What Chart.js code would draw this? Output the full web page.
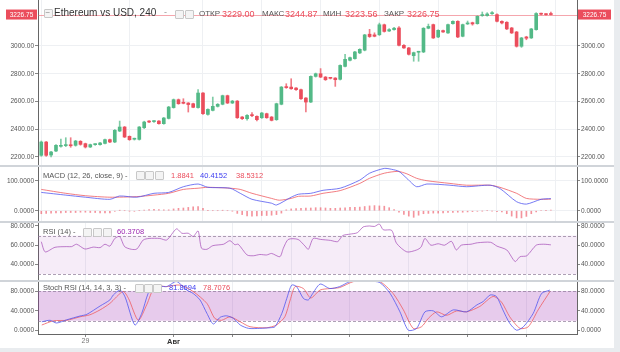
<!DOCTYPE html>
<html><head><meta charset="utf-8">
<script src="https://cdn.jsdelivr.net/npm/chart.js@4.4.1/dist/chart.umd.min.js"></script>
<style>
html,body{margin:0;padding:0;}
body{background:#e9ecef;width:620px;height:352px;overflow:hidden;position:relative;font-family:"Liberation Sans",Arial,sans-serif;}
#card{position:absolute;left:0;top:0;width:614px;height:348px;background:#fff;}
canvas{position:absolute;left:0;}
.sep{position:absolute;left:0;width:614px;height:2px;background:#d0d4d9;}
.t{position:absolute;white-space:nowrap;line-height:1;}
.ic{position:absolute;width:7px;height:7px;border:1px solid #c8c8c8;border-radius:1px;background:#f4f4f4;}
</style></head><body>
<div id="card"></div>
<canvas id="cMain" width="620" height="165" style="top:0px;width:620px;height:165px"></canvas>
<div class="sep" style="top:165px"></div>
<canvas id="cMacd" width="620" height="54" style="top:167px;width:620px;height:54px"></canvas>
<div class="sep" style="top:221px"></div>
<canvas id="cRsi" width="620" height="58" style="top:223px;width:620px;height:58px"></canvas>
<canvas id="cStoch" width="620" height="67" style="top:281px;width:620px;height:67px"></canvas>
<div class="sep" style="top:280px;height:1.5px"></div>
<div id="overlay"></div>
<script>
// ---------------- DATA ----------------
const TITLE = 'Ethereum vs USD, 240';
const OHLC_LABELS = ['ОТКР', 'МАКС', 'МИН', 'ЗАКР'];
const X_TICK_IDX = [9, 27, 39, 51, 63, 75, 87, 99];
const X_TICK_LABELS = ['29', 'Авг', '', '', '', '', '', ''];

const CANDLE_OPEN = [2212,2308,2214,2243,2277,2282,2284,2284,2313,2296, 2272,2289,2289,2298,2325,2308,2387,2416,2349,2328, 2327,2411,2457,2455,2459,2440,2478,2556,2613,2589, 2589,2584,2556,2661,2507,2536,2565,2580,2642,2589, 2603,2488,2476,2500,2493,2483,2512,2488,2469,2580, 2704,2704,2697,2685,2625,2596,2781,2800,2776,2769, 2769,2760,2853,2897,2909,2950,2970,3085,3080,3081, 3153,3108,3118,3130,3005,2986,2930,2955,2957,3128, 3154,3065,3111,3094,3161,3178,3070,3159,3168,3161, 3219,3219,3233,3226,3178,3171,3130,3101,2998,3065, 3058,3118,3234,3229,3229.00];
const CANDLE_HIGH = [2315,2312,2240,2290,2330,2339,2339,2320,2318,2300, 2293,2295,2305,2330,2330,2398,2459,2420,2352,2336, 2420,2458,2462,2462,2462,2485,2565,2618,2618,2620, 2592,2588,2685,2665,2548,2632,2585,2646,2646,2608, 2607,2492,2505,2520,2497,2521,2516,2492,2588,2708, 2728,2764,2700,2690,2628,2785,2805,2837,2780,2773, 2772,2864,2940,2920,2961,2980,3084,3120,3095,3165, 3158,3125,3135,3140,3010,2990,2956,2962,3132,3158, 3158,3117,3115,3158,3182,3182,3158,3180,3172,3218, 3245,3240,3248,3232,3182,3175,3134,3105,3062,3070, 3127,3240,3238,3234,3244.87];
const CANDLE_LOW = [2205,2205,2200,2238,2270,2275,2270,2278,2285,2265, 2268,2284,2285,2294,2303,2303,2383,2340,2320,2322, 2322,2405,2448,2450,2436,2436,2474,2552,2580,2583, 2524,2555,2552,2507,2502,2532,2560,2576,2585,2585, 2478,2470,2465,2490,2460,2478,2479,2460,2464,2576, 2695,2688,2680,2615,2524,2592,2776,2772,2752,2762, 2709,2755,2849,2893,2905,2945,2965,3062,3066,3076, 3100,3104,3114,3000,2982,2935,2890,2890,2952,3124, 3054,3060,3097,3090,3157,3060,3066,3155,3150,3157, 3214,3215,3228,3174,3160,3118,3090,2992,2990,3045, 3054,3114,3224,3222,3223.56];
const CANDLE_CLOSE = [2308,2212,2236,2284,2280,2284,2281,2315,2291,2272, 2289,2290,2301,2325,2308,2392,2416,2344,2325,2332, 2416,2452,2452,2457,2440,2481,2560,2613,2584,2587, 2578,2558,2661,2512,2543,2565,2580,2642,2589,2603, 2483,2476,2500,2498,2469,2517,2483,2464,2584,2704, 2700,2692,2685,2620,2596,2781,2800,2776,2757,2767, 2757,2860,2904,2916,2957,2976,3080,3068,3070,3153, 3105,3118,3128,3005,2986,2940,2952,2958,3128,3141, 3058,3113,3101,3154,3178,3065,3154,3161,3159,3214, 3220,3231,3234,3178,3166,3123,3094,2998,3058,3056, 3123,3234,3229,3226,3226.75];
const PRICE_TICKS = [2200, 2400, 2600, 2800, 3000];

const MACD_HIST = [-10,-9,-8,-7,-7, -6,-6,-6,-5,-5, -6,-6,-7,-7,-7, -2,1,0,-1,-2, 0,2,4,5,4, 3,3,6,8,9, 11,13,14,8,1, 0,0,1,0,-1, -9,-13,-17,-18,-17, -16,-16,-15,-13,-8, 3,6,7,8,9, 9,10,10,9,8, 8,9,10,11,11, 12,14,16,17,16, 15,10,4,-5,-12, -18,-22,-15,-10,-9, -8,-8,-7,-6,-6, -5,-5,-4,-3,-2, -1,0,-1,-3,-4, -10,-18,-24,-24,-19, -10,-4,0,1,1.8841];
const MACD_X = [0,5,9,14,16,19.5,23,26,29,32,34,38.5,40.6,43,47,48,51,52.5,55,57.5,61,65,67,70,71.5,73,74.6,76.6,78.7,83.4,86.8,91.6,93.6,97,99,102,104];
const MACD_LINE = [61,52,45,38,49,45,58,61,80,89,78,75,58,38,25,19,45,55,58,68,75,102,125,141,138,131,108,80,89,85,80,85,74,30,22,38,40.4152];
const SIGNAL_X = [0,5,9,14,19.5,23,26,29,32,34,38.5,40.6,43,47,48.6,51,52.5,55,57.5,61,65,67,70,72.8,74.6,76.6,78.7,83.4,86.8,91.6,93.6,97,99,102,104];
const SIGNAL_LINE = [71,58,50,45,47,52,58,71,75,78,75,71,58,41,35,41,48,49,58,67,91,108,125,131,123,108,100,91,85,85,78,58,41,38,38.5312];
const MACD_TICKS = [0, 100];

const RSI_X = [0,0.8,2.8,5.2,6.2,7.2,8.9,10.6,12,13,14,15,16,17,18.4,19.5,20.8,22,24.2,25.6,27.6,28.7,30,31,32,32.7,33.8,35,37.2,38.5,39.5,40.2,42,43.3,44.6,46,47,48.7,49.4,50.4,52.4,53.8,54.5,55.5,57,59,60.5,61.5,63,64.5,65.7,67,68,69,69.8,71.5,72.5,74.6,76.6,77.5,78.3,79.5,81,82.3,83.7,84.7,85.7,87.7,89,91.7,93,95,96.7,97.7,99.1,101,102.5,104];
const RSI_VALUE = [63.6,53,57.8,58.5,58.5,61,56,58,57.5,61,59,67,69,58.5,55.7,56,65.4,67,67,65.4,77,72.4,72.4,69,74.8,56.8,55.7,59.5,61,64.7,60.5,61,49.8,49,50.3,49.8,51.4,48,56.8,66,66,59.2,55.7,67,66,65,63.7,70,71.5,73,79,80,79.5,82,76,75.5,62,53,55,58,67,60,61.5,60,64,55,60,61,62.5,63,59,55,43,48,49,60,61,60.3708];
const RSI_TICKS = [40, 60, 80];
const RSI_BAND = [30, 70];

const STOCH_K_X = [0.1,1.8,3.1,5.2,7.9,9.3,12,14,14.7,16.1,17.1,19.1,20.5,21.8,22.9,24.2,25.6,27.6,29.7,31,32.4,33.8,35.1,36.5,37.8,39.2,40.6,42.3,44.6,46.7,47.7,49.1,50.1,51.1,52.1,53.5,54.5,55.2,56.9,58.9,60.9,63,65,67,69.1,71.2,73.2,74.9,76.6,78.3,80,81.7,84.1,86.8,88.9,90.2,91.6,92.9,94.2,95.6,97,98.4,100.4,102.1,103.8];
const STOCH_K = [18,21,15.5,22,29.6,33,49.8,62,72,82,68,11.5,35,75,90,90,89,99,82,75,62,35,13.5,27,30,25,11.5,4.7,4.7,6,8,35,65,92,89,65,62,72,94,85,89,99,100,100,97,75,38,1,4.7,38,40,28,42,38,52,59,72,69,42,15,1,8,35,75,81.8694];
const STOCH_D_X = [0.1,2.5,5.2,7.9,9.9,12,14,16.7,17.8,19.8,21.5,23.2,25.6,28.3,31,33.8,35.4,36.8,38.5,40.6,42.6,46,48,49.7,50.8,51.8,53.5,55,56.9,58.9,60.9,63.7,66.4,69.1,71.8,73.9,75.9,77.6,79,80.7,82.7,84.8,86.8,89.5,92.2,93.9,95.6,97.7,99.4,101.4,103.8];
const STOCH_D = [11.5,20,21,28,32,42,55,79,65,21,52,89,89,92,79,55,25,21,28,18,8,6,11.5,28,62,89,85,66,82,85,87,99,100,99,75,42,4.7,8,25,38,31,40,38,49,69,58,28,4.7,8,42,78.7076];
const STOCH_TICKS = [0, 40, 80];
const STOCH_BAND = [20, 80];

// ---------------- STYLE ----------------
const FONT = '"Liberation Sans", Arial, sans-serif';
const UP = '#53b987', DOWN = '#eb4d5c';
const BLUE = 'rgba(80,85,240,0.78)', REDL = 'rgba(238,90,95,0.78)', PURPLE = 'rgba(156,60,176,0.65)';
const X_MIN = -0.67, X_MAX = 109.33;

function xScale(show) {
  return {
    type: 'linear', min: X_MIN, max: X_MAX, offset: false,
    afterBuildTicks: s => { s.ticks = X_TICK_IDX.map(v => ({ value: v })); },
    afterFit: s => { s.height = show ? 14 : 0; s.paddingLeft = 0; s.paddingRight = 0; },
    ticks: {
      display: show, autoSkip: false, maxRotation: 0, padding: 0,
      callback: (v, i) => X_TICK_LABELS[i],
      font: c => (c.tick && c.tick.label === 'Авг') ? { family: FONT, size: 7.5, weight: 'bold' } : { family: FONT, size: 7 },
      color: c => (c.tick && c.tick.label === 'Авг') ? '#333' : '#777'
    },
    grid: { color: '#eef0f3', drawTicks: show, tickLength: 3, tickColor: '#888' },
    border: { display: show, color: '#666' }
  };
}
function yScale(pos, min, max, ticks, dec, gridOn) {
  return {
    type: 'linear', position: pos, min: min, max: max,
    afterBuildTicks: s => { s.ticks = ticks.map(v => ({ value: v })); },
    afterFit: s => { s.width = pos === 'left' ? 38 : 43; s.paddingTop = 0; s.paddingBottom = 0; },
    ticks: { callback: v => Number(v).toFixed(dec), font: { family: FONT, size: 6.5 }, color: '#555', padding: 1 },
    grid: { drawOnChartArea: gridOn && pos === 'left', color: '#eef0f3', tickLength: 3, tickColor: '#888' },
    border: { color: '#666' }
  };
}
function baseOptions(showX, min, max, ticks, dec, gridOn) {
  return {
    responsive: false, animation: false, events: [],
    layout: { padding: 0 },
    plugins: { legend: { display: false }, tooltip: { enabled: false } },
    scales: {
      x: xScale(showX),
      y: yScale('left', min, max, ticks, dec, gridOn),
      y2: yScale('right', min, max, ticks, dec, gridOn)
    }
  };
}
const bandPlugin = {
  id: 'band',
  beforeDatasetsDraw(chart, args, o) {
    if (!o || o.lo == null) return;
    const ctx = chart.ctx, a = chart.chartArea, ys = chart.scales.y;
    const y1 = ys.getPixelForValue(o.hi), y2 = ys.getPixelForValue(o.lo);
    ctx.save();
    ctx.fillStyle = o.fill;
    ctx.fillRect(a.left, y1, a.right - a.left, y2 - y1);
    ctx.setLineDash([3, 2]);
    ctx.strokeStyle = o.line; ctx.lineWidth = 1;
    [y1, y2].forEach(y => { ctx.beginPath(); ctx.moveTo(a.left, Math.round(y) + 0.5); ctx.lineTo(a.right, Math.round(y) + 0.5); ctx.stroke(); });
    ctx.restore();
  }
};
const pts = (xs, ys) => xs.map((x, i) => ({ x: x, y: ys[i] }));
const lineDs = (data, color, order) => ({ type: 'line', data: data, borderColor: color, borderWidth: 1, pointRadius: 0, tension: 0.25, fill: false, order: order });

// ---------------- MAIN (candles) ----------------
const N = CANDLE_CLOSE.length;
const dirColor = CANDLE_CLOSE.map((c, i) => c >= CANDLE_OPEN[i] ? UP : DOWN);
const wickColor = CANDLE_CLOSE.map((c, i) => c >= CANDLE_OPEN[i] ? 'rgba(83,185,135,0.75)' : 'rgba(235,77,92,0.75)');
const lastClose = CANDLE_CLOSE[N - 1];
new Chart(document.getElementById('cMain'), {
  type: 'bar',
  data: {
    datasets: [
      { data: CANDLE_CLOSE.map((c, i) => ({ x: i, y: [CANDLE_LOW[i], CANDLE_HIGH[i]] })), backgroundColor: wickColor, barThickness: 1, grouped: false, order: 2 },
      { data: CANDLE_CLOSE.map((c, i) => ({ x: i, y: [CANDLE_OPEN[i], c] })), backgroundColor: dirColor, barThickness: 3, minBarLength: 1, grouped: false, order: 1 }
    ]
  },
  options: baseOptions(false, 2142.3, 3331.5, PRICE_TICKS, 2, true),
  plugins: [{
    id: 'lastPrice',
    beforeDatasetsDraw(chart) {
      const ctx = chart.ctx, a = chart.chartArea, y = Math.round(chart.scales.y.getPixelForValue(lastClose)) + 0.5;
      ctx.save(); ctx.strokeStyle = 'rgba(235,77,92,0.5)'; ctx.lineWidth = 1;
      ctx.beginPath(); ctx.moveTo(a.left, y); ctx.lineTo(a.right, y); ctx.stroke(); ctx.restore();
    },
    afterDraw(chart) {
      const ctx = chart.ctx, a = chart.chartArea, y = chart.scales.y.getPixelForValue(lastClose);
      const txt = lastClose.toFixed(2);
      ctx.save();
      ctx.fillStyle = DOWN;
      ctx.fillRect(6, y - 5, 31, 10);
      ctx.fillRect(a.right + 1, y - 5, 33, 10);
      ctx.fillStyle = '#fff'; ctx.font = '6.5px ' + FONT; ctx.textBaseline = 'middle'; ctx.textAlign = 'center';
      ctx.fillText(txt, 21.5, y + 0.5);
      ctx.fillText(txt, a.right + 17.5, y + 0.5);
      ctx.restore();
    }
  }]
});

// ---------------- MACD ----------------
new Chart(document.getElementById('cMacd'), {
  type: 'bar',
  data: {
    datasets: [
      { data: MACD_HIST.map((v, i) => ({ x: i, y: v })), backgroundColor: 'rgba(235,77,92,0.6)', barThickness: 1, grouped: false, order: 3 },
      lineDs(pts(SIGNAL_X, SIGNAL_LINE), REDL, 2),
      lineDs(pts(MACD_X, MACD_LINE), BLUE, 1)
    ]
  },
  options: baseOptions(false, -34.3, 145.7, MACD_TICKS, 4, true)
});

// ---------------- RSI ----------------
const rsiOpt = baseOptions(false, 22.7, 83.1, RSI_TICKS, 4, false);
rsiOpt.plugins.band = { lo: RSI_BAND[0], hi: RSI_BAND[1], fill: 'rgba(155,39,176,0.09)', line: 'rgba(140,120,150,0.7)' };
new Chart(document.getElementById('cRsi'), {
  type: 'line',
  data: { datasets: [lineDs(pts(RSI_X, RSI_VALUE), PURPLE, 1)] },
  options: rsiOpt,
  plugins: [bandPlugin]
});

// ---------------- STOCH RSI ----------------
const stOpt = baseOptions(true, -6.65, 100.2, STOCH_TICKS, 4, false);
stOpt.plugins.band = { lo: STOCH_BAND[0], hi: STOCH_BAND[1], fill: 'rgba(155,39,176,0.24)', line: 'rgba(140,120,150,0.7)' };
new Chart(document.getElementById('cStoch'), {
  type: 'line',
  data: { datasets: [lineDs(pts(STOCH_D_X, STOCH_D), REDL, 2), lineDs(pts(STOCH_K_X, STOCH_K), BLUE, 1)] },
  options: stOpt,
  plugins: [bandPlugin]
});

// ---------------- HEADERS (text) ----------------
const ov = document.getElementById('overlay');
function txt(s, x, y, size, color, weight) {
  const d = document.createElement('div'); d.className = 't'; d.textContent = s;
  d.style.left = x + 'px'; d.style.top = y + 'px'; d.style.fontSize = size + 'px'; d.style.color = color;
  if (weight) d.style.fontWeight = weight; ov.appendChild(d);
}
function icon(x, y) { const d = document.createElement('div'); d.className = 'ic'; d.style.left = x + 'px'; d.style.top = y + 'px'; ov.appendChild(d); }
// title row
icon(44, 9);
txt('−', 45.5, 8.5, 8, '#888');
txt(TITLE, 54, 8, 10, '#333');
txt('-', 164, 8, 9, '#999');
icon(175, 10); icon(185, 10);
const ohlc = [CANDLE_OPEN[N - 1], CANDLE_HIGH[N - 1], CANDLE_LOW[N - 1], lastClose];
const lx = [199, 262, 323, 384], vx = [222, 285, 345, 407];
OHLC_LABELS.forEach((l, i) => { txt(l, lx[i], 10, 8, '#555'); txt(ohlc[i].toFixed(2), vx[i], 9.5, 9, DOWN); });
// MACD header
txt('MACD (12, 26, close, 9) -', 43, 171.5, 7.5, '#555');
icon(136, 171); icon(145, 171); icon(155, 171);
txt(MACD_HIST[N - 1].toFixed(4), 171, 171.5, 7.5, DOWN);
txt(MACD_LINE[MACD_LINE.length - 1].toFixed(4), 200, 171.5, 7.5, '#3b3bf0');
txt(SIGNAL_LINE[SIGNAL_LINE.length - 1].toFixed(4), 236, 171.5, 7.5, DOWN);
// RSI header
txt('RSI (14) -', 43, 228, 7.5, '#555');
icon(83, 228); icon(93, 228); icon(103, 228);
txt(RSI_VALUE[RSI_VALUE.length - 1].toFixed(4), 117, 228, 7.5, '#9c27b0');
// Stoch header
txt('Stoch RSI (14, 14, 3, 3) -', 43, 284, 7.5, '#555');
icon(135, 284); icon(144, 284); icon(153, 284);
txt(STOCH_K[STOCH_K.length - 1].toFixed(4), 169, 284, 7.5, '#3b3bf0');
txt(STOCH_D[STOCH_D.length - 1].toFixed(4), 203, 284, 7.5, DOWN);
</script>
</body></html>
